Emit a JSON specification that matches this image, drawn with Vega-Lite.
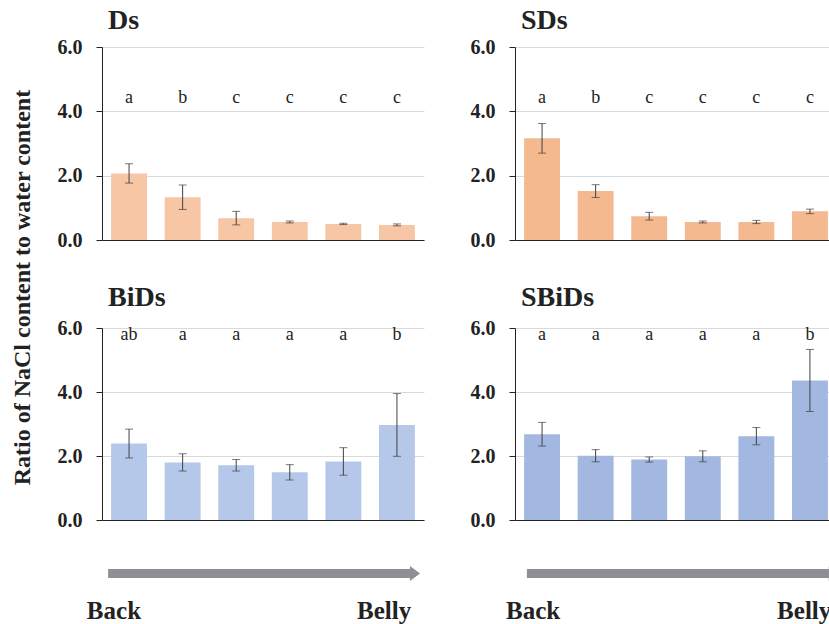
{
  "$schema": "https://vega.github.io/schema/vega-lite/v6.json",
  "padding": {"left": 10, "top": 7, "right": 0, "bottom": 0},
  "background": "white",
  "title": {"text": "Ratio of NaCl content to water content", "orient": "left", "anchor": "middle", "frame": "bounds", "dx": 28, "font": "Liberation Serif", "fontSize": 24, "fontWeight": "bold", "color": "#222222", "offset": 22},
  "datasets": {
    "ds": [
      {"pos": 1, "mean": 2.07, "err": 0.30, "letter": "a"},
      {"pos": 2, "mean": 1.33, "err": 0.38, "letter": "b"},
      {"pos": 3, "mean": 0.68, "err": 0.21, "letter": "c"},
      {"pos": 4, "mean": 0.56, "err": 0.03, "letter": "c"},
      {"pos": 5, "mean": 0.50, "err": 0.02, "letter": "c"},
      {"pos": 6, "mean": 0.47, "err": 0.03, "letter": "c"}
    ],
    "sds": [
      {"pos": 1, "mean": 3.16, "err": 0.46, "letter": "a"},
      {"pos": 2, "mean": 1.52, "err": 0.20, "letter": "b"},
      {"pos": 3, "mean": 0.74, "err": 0.12, "letter": "c"},
      {"pos": 4, "mean": 0.56, "err": 0.03, "letter": "c"},
      {"pos": 5, "mean": 0.56, "err": 0.05, "letter": "c"},
      {"pos": 6, "mean": 0.89, "err": 0.07, "letter": "c"}
    ],
    "bids": [
      {"pos": 1, "mean": 2.39, "err": 0.45, "letter": "ab"},
      {"pos": 2, "mean": 1.80, "err": 0.27, "letter": "a"},
      {"pos": 3, "mean": 1.71, "err": 0.18, "letter": "a"},
      {"pos": 4, "mean": 1.49, "err": 0.24, "letter": "a"},
      {"pos": 5, "mean": 1.83, "err": 0.43, "letter": "a"},
      {"pos": 6, "mean": 2.97, "err": 0.98, "letter": "b"}
    ],
    "sbids": [
      {"pos": 1, "mean": 2.68, "err": 0.37, "letter": "a"},
      {"pos": 2, "mean": 2.01, "err": 0.19, "letter": "a"},
      {"pos": 3, "mean": 1.89, "err": 0.08, "letter": "a"},
      {"pos": 4, "mean": 1.99, "err": 0.17, "letter": "a"},
      {"pos": 5, "mean": 2.62, "err": 0.27, "letter": "a"},
      {"pos": 6, "mean": 4.36, "err": 0.97, "letter": "b"}
    ],
    "arrowL": [{"from": 0.019, "to": 0.957, "head": 0.972}],
    "arrowR": [{"from": 0.037, "to": 0.975, "head": 0.99}],
    "labelsL": [{"label": "Back", "x": -0.047}, {"label": "Belly", "x": 0.792}],
    "labelsR": [{"label": "Back", "x": -0.028}, {"label": "Belly", "x": 0.814}]
  },
  "config": {
    "view": {"stroke": null},
    "axisY": {"labelFont": "Liberation Serif", "labelFontWeight": "bold", "labelFontSize": 20, "labelColor": "#222222", "labelPadding": 14, "tickSize": 6, "tickColor": "#222222", "domainColor": "#222222", "gridColor": "#d9d9d9", "grid": true},
    "axisX": {"labels": false, "ticks": false, "domainColor": "#222222", "grid": false},
    "title": {"anchor": "start", "frame": "group", "font": "Liberation Serif", "fontSize": 28, "fontWeight": "bold", "color": "#222222", "baseline": "alphabetic"}
  },
  "spacing": 46,
  "hconcat": [
    {
      "spacing": 34,
      "vconcat": [
        {
          "title": {"text": "Ds", "offset": 2, "dx": 6},
          "width": 322, "height": 193,
          "data": {"name": "ds"},
          "encoding": {
            "x": {"field": "pos", "type": "ordinal", "scale": {"paddingInner": 0.33, "paddingOuter": 0.17}, "axis": {"title": null}},
            "y": {"field": "mean", "type": "quantitative", "scale": {"domain": [0, 6], "nice": false}, "axis": {"title": null, "values": [0, 2, 4, 6], "format": ".1f"}}
          },
          "layer": [
            {"mark": {"type": "bar", "color": "#f7c6a5"}},
            {"mark": {"type": "errorbar", "ticks": {"size": 8}, "color": "#404040", "thickness": 1}, "encoding": {"yError": {"field": "err"}}},
            {"mark": {"type": "text", "font": "Liberation Serif", "fontSize": 18, "color": "#222222", "baseline": "alphabetic"}, "encoding": {"y": {"datum": 4.27}, "text": {"field": "letter"}}}
          ]
        },
        {
          "title": {"text": "BiDs", "offset": 6, "dx": 6},
          "width": 322, "height": 192,
          "data": {"name": "bids"},
          "encoding": {
            "x": {"field": "pos", "type": "ordinal", "scale": {"paddingInner": 0.33, "paddingOuter": 0.17}, "axis": {"title": null}},
            "y": {"field": "mean", "type": "quantitative", "scale": {"domain": [0, 6], "nice": false}, "axis": {"title": null, "values": [0, 2, 4, 6], "format": ".1f"}}
          },
          "layer": [
            {"mark": {"type": "bar", "color": "#b5c8ea"}},
            {"mark": {"type": "errorbar", "ticks": {"size": 8}, "color": "#404040", "thickness": 1}, "encoding": {"yError": {"field": "err"}}},
            {"mark": {"type": "text", "font": "Liberation Serif", "fontSize": 18, "color": "#222222", "baseline": "alphabetic"}, "encoding": {"y": {"datum": 5.62}, "text": {"field": "letter"}}}
          ]
        },
        {
          "width": 322, "height": 60,
          "layer": [
            {
              "data": {"name": "arrowL"},
              "mark": {"type": "rule", "color": "#8f8f93", "strokeWidth": 9},
              "encoding": {
                "x": {"field": "from", "type": "quantitative", "scale": {"domain": [0, 1], "nice": false, "zero": false}, "axis": null},
                "x2": {"field": "to"},
                "y": {"datum": 0.84, "type": "quantitative", "scale": {"domain": [0, 1], "nice": false}, "axis": null}
              }
            },
            {
              "data": {"name": "arrowL"},
              "mark": {"type": "point", "filled": true, "color": "#8f8f93", "opacity": 1, "shape": "M-0.67,-1L0.67,0L-0.67,1Z", "size": 225},
              "encoding": {
                "x": {"field": "head", "type": "quantitative"},
                "y": {"datum": 0.84, "type": "quantitative"}
              }
            },
            {
              "data": {"name": "labelsL"},
              "mark": {"type": "text", "font": "Liberation Serif", "fontSize": 25, "fontWeight": "bold", "color": "#222222", "align": "left", "baseline": "alphabetic"},
              "encoding": {
                "x": {"field": "x", "type": "quantitative"},
                "y": {"datum": 0.08, "type": "quantitative"},
                "text": {"field": "label"}
              }
            }
          ]
        }
      ]
    },
    {
      "spacing": 34,
      "vconcat": [
        {
          "title": {"text": "SDs", "offset": 2, "dx": 6},
          "width": 322, "height": 193,
          "data": {"name": "sds"},
          "encoding": {
            "x": {"field": "pos", "type": "ordinal", "scale": {"paddingInner": 0.33, "paddingOuter": 0.17}, "axis": {"title": null}},
            "y": {"field": "mean", "type": "quantitative", "scale": {"domain": [0, 6], "nice": false}, "axis": {"title": null, "values": [0, 2, 4, 6], "format": ".1f"}}
          },
          "layer": [
            {"mark": {"type": "bar", "color": "#f5b98f"}},
            {"mark": {"type": "errorbar", "ticks": {"size": 8}, "color": "#404040", "thickness": 1}, "encoding": {"yError": {"field": "err"}}},
            {"mark": {"type": "text", "font": "Liberation Serif", "fontSize": 18, "color": "#222222", "baseline": "alphabetic"}, "encoding": {"y": {"datum": 4.27}, "text": {"field": "letter"}}}
          ]
        },
        {
          "title": {"text": "SBiDs", "offset": 6, "dx": 6},
          "width": 322, "height": 192,
          "data": {"name": "sbids"},
          "encoding": {
            "x": {"field": "pos", "type": "ordinal", "scale": {"paddingInner": 0.33, "paddingOuter": 0.17}, "axis": {"title": null}},
            "y": {"field": "mean", "type": "quantitative", "scale": {"domain": [0, 6], "nice": false}, "axis": {"title": null, "values": [0, 2, 4, 6], "format": ".1f"}}
          },
          "layer": [
            {"mark": {"type": "bar", "color": "#a2b8e0"}},
            {"mark": {"type": "errorbar", "ticks": {"size": 8}, "color": "#404040", "thickness": 1}, "encoding": {"yError": {"field": "err"}}},
            {"mark": {"type": "text", "font": "Liberation Serif", "fontSize": 18, "color": "#222222", "baseline": "alphabetic"}, "encoding": {"y": {"datum": 5.62}, "text": {"field": "letter"}}}
          ]
        },
        {
          "width": 322, "height": 60,
          "layer": [
            {
              "data": {"name": "arrowR"},
              "mark": {"type": "rule", "color": "#8f8f93", "strokeWidth": 9},
              "encoding": {
                "x": {"field": "from", "type": "quantitative", "scale": {"domain": [0, 1], "nice": false, "zero": false}, "axis": null},
                "x2": {"field": "to"},
                "y": {"datum": 0.84, "type": "quantitative", "scale": {"domain": [0, 1], "nice": false}, "axis": null}
              }
            },
            {
              "data": {"name": "arrowR"},
              "mark": {"type": "point", "filled": true, "color": "#8f8f93", "opacity": 1, "shape": "M-0.67,-1L0.67,0L-0.67,1Z", "size": 225},
              "encoding": {
                "x": {"field": "head", "type": "quantitative"},
                "y": {"datum": 0.84, "type": "quantitative"}
              }
            },
            {
              "data": {"name": "labelsR"},
              "mark": {"type": "text", "font": "Liberation Serif", "fontSize": 25, "fontWeight": "bold", "color": "#222222", "align": "left", "baseline": "alphabetic"},
              "encoding": {
                "x": {"field": "x", "type": "quantitative"},
                "y": {"datum": 0.08, "type": "quantitative"},
                "text": {"field": "label"}
              }
            }
          ]
        }
      ]
    }
  ]
}
